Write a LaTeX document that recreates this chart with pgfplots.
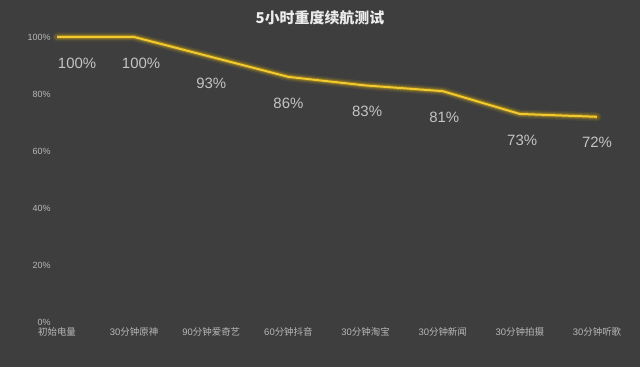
\documentclass[border=0pt]{standalone}
\usepackage{fontspec}
\usepackage{pgfplots}
\pgfplotsset{compat=1.18}
\setmainfont{Liberation Sans}
\newfontfamily\cjk{Noto Sans CJK SC}
\definecolor{bg}{HTML}{3E3E3E}
\definecolor{ln}{HTML}{F2CA2E}
\definecolor{glow}{HTML}{C9A216}
\definecolor{lbl}{HTML}{C4C4C4}
\definecolor{tick}{HTML}{B8B8B8}
\begin{document}
\begin{tikzpicture}[x=1bp,y=1bp]
\fill[bg] (0,0) rectangle (640,367);
\node[font=\cjk\bfseries\fontsize{15}{16}\selectfont, text=white!92!black] at (320,349) {5小时重度续航测试};
\begin{axis}[
  at={(57bp,45bp)}, anchor=origin,
  scale only axis, width=540bp, height=285bp,
  xmin=0, xmax=7, ymin=0, ymax=100,
  clip=false,
  axis line style={draw=none},
  tick style={draw=none},
  ytick={0,20,40,60,80,100},
  yticklabel={\pgfmathprintnumber{\tick}\%},
  yticklabel style={font=\fontsize{9}{10}\selectfont, text=tick, xshift=-3bp},
  /pgf/number format/assume math mode=true,
  xtick={0,1,2,3,4,5,6,7},
  xticklabels={{\cjk 初始电量},{30\cjk 分钟原神},{90\cjk 分钟爱奇艺},{60\cjk 分钟抖音},{30\cjk 分钟淘宝},{30\cjk 分钟新闻},{30\cjk 分钟拍摄},{30\cjk 分钟听歌}},
  xticklabel style={font=\fontsize{9.5}{10}\selectfont, text=tick, yshift=-2bp},
  grid=none,
]
\pgfplotstableread{
x y
0 100
1 100
2 93
3 86
4 83
5 81
6 73
7 72
}\data
\addplot[glow, line width=9bp, opacity=0.12, line join=round, line cap=round] table[x=x,y=y] {\data};
\addplot[glow, line width=6bp, opacity=0.2, line join=round, line cap=round] table[x=x,y=y] {\data};
\addplot[glow, line width=4bp, opacity=0.35, line join=round] table[x=x,y=y] {\data};
\addplot[ln, line width=2bp, line join=round] table[x=x,y=y] {\data};
% data labels
\addplot[draw=none, mark=none,
  nodes near coords={\pgfmathprintnumber{\pgfplotspointmeta}\%},
  point meta=explicit,
  nodes near coords style={anchor=center, yshift=-26bp, font=\fontsize{15}{16}\selectfont, text=lbl}]
  table[x=x,y=y,meta=m] {
x y m
0.26 100 100
1.09 100 100
2.0 93 93
3.0 86 86
4.02 83 83
5.02 81 81
6.03 73 73
7.0 72 72
};
\end{axis}
\end{tikzpicture}
\end{document}
